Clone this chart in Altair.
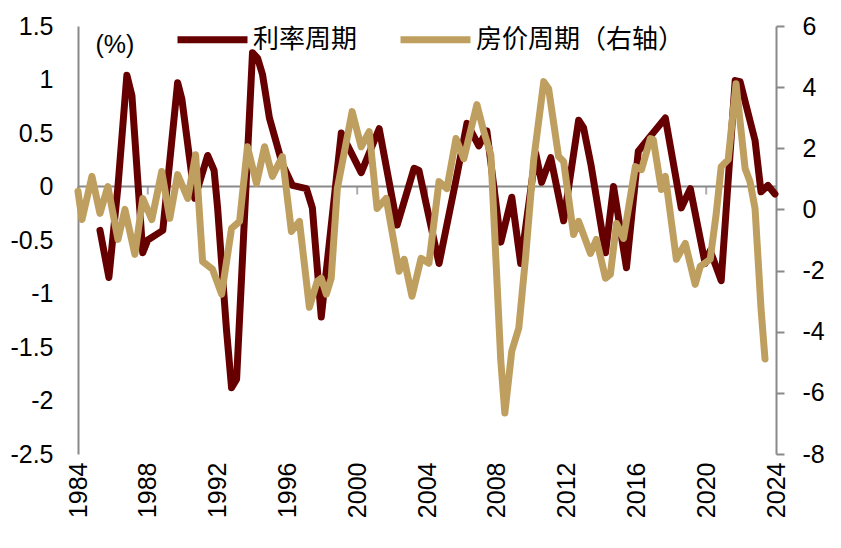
import altair as alt
import pandas as pd

# ---- data ----
rate_years = [1985.26, 1985.77, 1986.29, 1986.8, 1987.09, 1987.71, 1988.0, 1988.57, 1988.86,
              1989.71, 1989.95, 1990.69, 1991.43, 1991.8, 1992.0, 1992.51, 1992.8, 1993.09,
              1994.0, 1994.29, 1994.57, 1994.97, 1995.71, 1996.29, 1997.09, 1997.43, 1997.94,
              1999.09, 2000.23, 2001.26, 2002.29, 2003.26, 2003.54, 2004.69, 2005.66, 2006.29,
              2006.97, 2007.43, 2008.23, 2008.86, 2009.37, 2010.23, 2010.57, 2011.09, 2011.83,
              2012.69, 2012.97, 2013.4, 2014.23, 2014.69, 2015.43, 2016.11, 2016.7, 2017.66,
              2018.57, 2019.09, 2019.94, 2020.23, 2020.86, 2021.66, 2021.94, 2022.8, 2023.14,
              2023.54, 2023.94]
rate_values = [-0.41, -0.85, 0.0, 1.04, 0.85, -0.62, -0.5, -0.44, -0.41,
               0.97, 0.82, -0.11, 0.29, 0.15, -0.2, -1.34, -1.88, -1.8,
               1.25, 1.2, 1.05, 0.64, 0.21, 0.01, -0.02, -0.2, -1.22,
               0.5, 0.13, 0.54, -0.36, 0.17, 0.15, -0.72, 0.06, 0.59,
               0.38, 0.52, -0.52, -0.1, -0.72, 0.31, 0.04, 0.27, -0.32,
               0.62, 0.55, 0.2, -0.62, 0.0, -0.76, 0.33, 0.45, 0.64,
               -0.2, -0.02, -0.72, -0.6, -0.88, 0.99, 0.98, 0.43, -0.05,
               0.01, -0.07]

house_years = [1984.0, 1984.23, 1984.8, 1985.26, 1985.71, 1986.29, 1986.69, 1987.26, 1987.71,
               1988.23, 1988.8, 1989.26, 1989.71, 1990.29, 1990.74, 1991.14, 1991.71, 1992.23,
               1992.8, 1993.26, 1993.71, 1994.23, 1994.69, 1995.14, 1995.71, 1996.23, 1996.69,
               1997.26, 1997.71, 1997.94, 1998.23, 1998.51, 1998.86, 1999.71, 2000.23, 2000.69,
               2001.14, 2001.66, 2002.4, 2002.69, 2003.14, 2003.66, 2004.11, 2004.69, 2005.14,
               2005.66, 2006.11, 2006.86, 2007.26, 2007.66, 2008.23, 2008.46, 2008.86, 2009.26,
               2009.66, 2010.11, 2010.69, 2010.97, 2011.54, 2011.83, 2012.4, 2012.69, 2013.37,
               2013.71, 2014.23, 2014.51, 2014.86, 2015.26, 2015.94, 2016.29, 2016.8, 2016.97,
               2017.43, 2017.66, 2018.29, 2018.8, 2019.37, 2019.66, 2020.23, 2020.57, 2020.86,
               2021.26, 2021.71, 2022.23, 2022.51, 2022.8, 2023.14, 2023.37]
house_values = [0.59, -0.33, 1.08, -0.13, 0.75, -0.98, 0.0, -1.47, 0.36,
                -0.33, 1.24, -0.29, 1.14, 0.36, 1.79, -1.7, -1.96, -2.77,
                -0.62, -0.39, 2.05, 0.85, 2.05, 1.08, 1.73, -0.72, -0.39,
                -3.2, -2.35, -2.25, -2.77, -2.25, 0.68, 3.2, 2.05, 2.54,
                0.03, 0.36, -2.02, -1.63, -2.84, -1.6, -1.76, 0.91, 0.68,
                2.32, 1.66, 3.43, 2.54, 1.79, -4.96, -6.66, -4.63, -3.88,
                -1.5, 1.6, 4.18, 3.95, 1.73, 1.57, -0.82, -0.39, -1.44,
                -0.98, -2.25, -2.12, -0.46, -0.95, 1.4, 1.3, 2.32, 2.28,
                0.65, 1.08, -1.63, -1.11, -2.45, -1.86, -1.63, -0.16, 1.4,
                1.63, 4.11, 1.34, 0.91, 0.03, -3.23, -4.89]

series_names = ["利率周期", "房价周期（右轴）"]
series_colors = ["#660000", "#BF9F5F"]
tick_years = list(range(1984, 2025, 4))
left_ticks = [-2.5, -2, -1.5, -1, -0.5, 0, 0.5, 1, 1.5]
right_ticks = [-8, -6, -4, -2, 0, 2, 4, 6]
zero_level = [0]

# ---- tables ----
rate_df = pd.DataFrame({"year": rate_years, "value": rate_values, "series": series_names[0]})
house_df = pd.DataFrame({"year": house_years, "value": house_values, "series": series_names[1]})
ticks_df = pd.DataFrame({"year": tick_years, "value": zero_level * len(tick_years)})
zero_df = pd.DataFrame({"value": zero_level})

GRAY = "#898989"
NUM_FONT = "Liberation Sans"

x_enc = alt.X(
    "year:Q", scale=alt.Scale(domain=[1984, 2024], nice=False, zero=False),
    axis=alt.Axis(values=tick_years, format="d", labelAngle=-90, domain=False, ticks=False,
                  grid=False, labelPadding=8, labelFontSize=25, labelFont=NUM_FONT,
                  labelColor="black", labelFlush=False, labelOverlap=False, title=None),
)
y_left = alt.Y(
    "value:Q", scale=alt.Scale(domain=[-2.5, 1.5], nice=False, zero=False),
    axis=alt.Axis(values=left_ticks, labelExpr="'' + datum.value", ticks=False, grid=False,
                  domainColor=GRAY, domainWidth=2, labelFontSize=25, labelFont=NUM_FONT,
                  labelColor="black", labelPadding=25, labelOverlap=False,
                  title="(%)", titleAngle=0, titleX=17, titleY=18, titleAlign="left",
                  titleBaseline="middle", titleFontWeight="normal", titleFontSize=25,
                  titleFont=NUM_FONT, titleColor="black"),
)
y_right = alt.Y(
    "value:Q", scale=alt.Scale(domain=[-8, 6], nice=False, zero=False),
    axis=alt.Axis(orient="right", values=right_ticks, labelExpr="'' + datum.value",
                  ticks=True, tickSize=8, tickColor=GRAY, tickWidth=2, grid=False,
                  domainColor=GRAY, domainWidth=2, labelFontSize=25, labelFont=NUM_FONT,
                  labelColor="black", labelPadding=18, labelOverlap=False, title=None),
)

color_enc = alt.Color(
    "series:N",
    scale=alt.Scale(domain=series_names, range=series_colors),
    legend=alt.Legend(orient="none", legendX=96, legendY=-25, direction="horizontal", title=None,
                      symbolType="stroke", symbolSize=4900, symbolStrokeWidth=7,
                      labelFontSize=26, labelFont="Noto Sans CJK SC", labelColor="black",
                      labelOffset=2, columnPadding=28, labelLimit=400),
)

zero_rule = alt.Chart(zero_df).mark_rule(color=GRAY, strokeWidth=2).encode(y=y_left)
zero_ticks = alt.Chart(ticks_df).mark_tick(
    orient="vertical", size=8, thickness=2, color=GRAY, yOffset=4
).encode(x=x_enc, y=y_left)

rate_line = alt.Chart(rate_df).mark_line(strokeWidth=7, strokeJoin="round", strokeCap="round").encode(
    x=x_enc, y=y_left, color=color_enc,
)
house_line = alt.Chart(house_df).mark_line(strokeWidth=7, strokeJoin="round", strokeCap="round").encode(
    x=x_enc, y=y_right, color=color_enc,
)

left_group = alt.layer(zero_rule, zero_ticks, rate_line)
chart = alt.layer(left_group, house_line).resolve_scale(y="independent").properties(
    width=698, height=428,
    autosize=alt.AutoSizeParams(type="none"),
    padding={"left": 70, "top": 18, "right": 50, "bottom": 80},
    background="white",
).configure_view(stroke=None)

chart.save("out.html", embed_options={"renderer": "svg", "actions": False})
